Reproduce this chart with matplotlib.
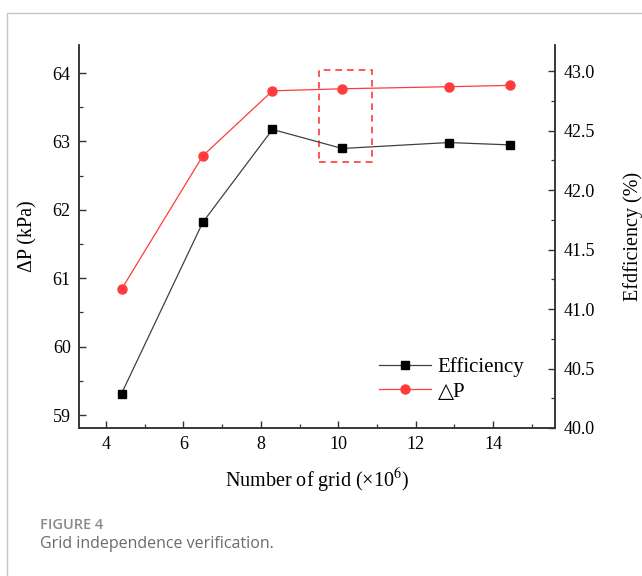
import matplotlib
matplotlib.use("Agg")
import matplotlib.pyplot as plt
from matplotlib.patches import Rectangle
from matplotlib.ticker import MultipleLocator, FormatStrFormatter

# grid count (x10^6) and results
grid = [4.4, 6.5, 8.3, 10.1, 12.85, 14.45]
dp = [60.84, 62.79, 63.74, 63.77, 63.80, 63.82]
eff = [40.29, 41.73, 42.51, 42.35, 42.40, 42.38]

plt.rcParams['font.family'] = ['Liberation Serif', 'DejaVu Serif', 'DejaVu Sans']
plt.rcParams['mathtext.fontset'] = 'stix'
red = '#ff3b3b'

fig = plt.figure(figsize=(6.42, 5.76), dpi=100)

# light frame around the figure panel
fig.patches.append(Rectangle((7 / 642, -0.05), 1.1, (576 - 13) / 576 + 0.05,
                             transform=fig.transFigure, fill=False,
                             edgecolor='#c4c4c4', linewidth=1.0))

ax = fig.add_axes([79 / 642, 148 / 576, 476 / 642, 383 / 576])
ax2 = ax.twinx()

ax.plot(grid, dp, color=red, lw=0.9, marker='o', ms=6.5, mfc=red, mec=red,
        label='△P', zorder=3)
ax2.plot(grid, eff, color='#404040', lw=0.9, marker='s', ms=5.5, mfc='black',
         mec='black', label='Efficiency', zorder=3)

ax.set_xlim(3.3, 15.6)
ax.set_ylim(58.81, 64.41)
ax2.set_ylim(40.0, 43.22)

# dashed box round the chosen grid
ax.add_patch(Rectangle((9.5, 62.70), 1.37, 1.34, fill=False, edgecolor=red,
                       linestyle=(0, (4, 3)), linewidth=1.2, zorder=4))

ax.xaxis.set_major_locator(MultipleLocator(2))
ax.xaxis.set_minor_locator(MultipleLocator(1))
ax.yaxis.set_major_locator(MultipleLocator(1))
ax.yaxis.set_minor_locator(MultipleLocator(0.5))
ax2.yaxis.set_major_locator(MultipleLocator(0.5))
ax2.yaxis.set_minor_locator(MultipleLocator(0.25))
ax2.yaxis.set_major_formatter(FormatStrFormatter('%.1f'))

for a in (ax, ax2):
    a.spines['top'].set_visible(False)
    for s in a.spines.values():
        s.set_color('#333333')
        s.set_linewidth(1.1)
    a.tick_params(which='major', direction='in', length=5, width=1.0,
                  color='#333333', labelsize=13, pad=6)
    a.tick_params(which='minor', direction='in', length=3, width=0.9,
                  color='#333333')

ax.set_xlabel('Number of grid (×10$^{6}$)', fontsize=14.5, labelpad=10)
ax.set_ylabel('ΔP (kPa)', fontsize=14.5, labelpad=11)
ax2.set_ylabel('Efdficiency (%)', fontsize=14.5, labelpad=20)

h1, l1 = ax2.get_legend_handles_labels()
h2, l2 = ax.get_legend_handles_labels()
ax2.legend(h1 + h2, l1 + l2, loc='lower right',
           bbox_to_anchor=(0.975, 0.02), frameon=False,
           prop={'size': 15}, handlelength=2.5,
           handletextpad=0.3, labelspacing=0.25)

fig.text(40 / 642, 1 - 525 / 576, 'FIGURE 4', fontsize=10.5, color='#8a8a8a',
         family='Open Sans', fontweight='semibold', va='center')
fig.text(40 / 642, 1 - 544 / 576, 'Grid independence verification.',
         fontsize=11.5, color='#6b6b6b', family='Open Sans', va='center')

fig.savefig('out.png', dpi=100)
